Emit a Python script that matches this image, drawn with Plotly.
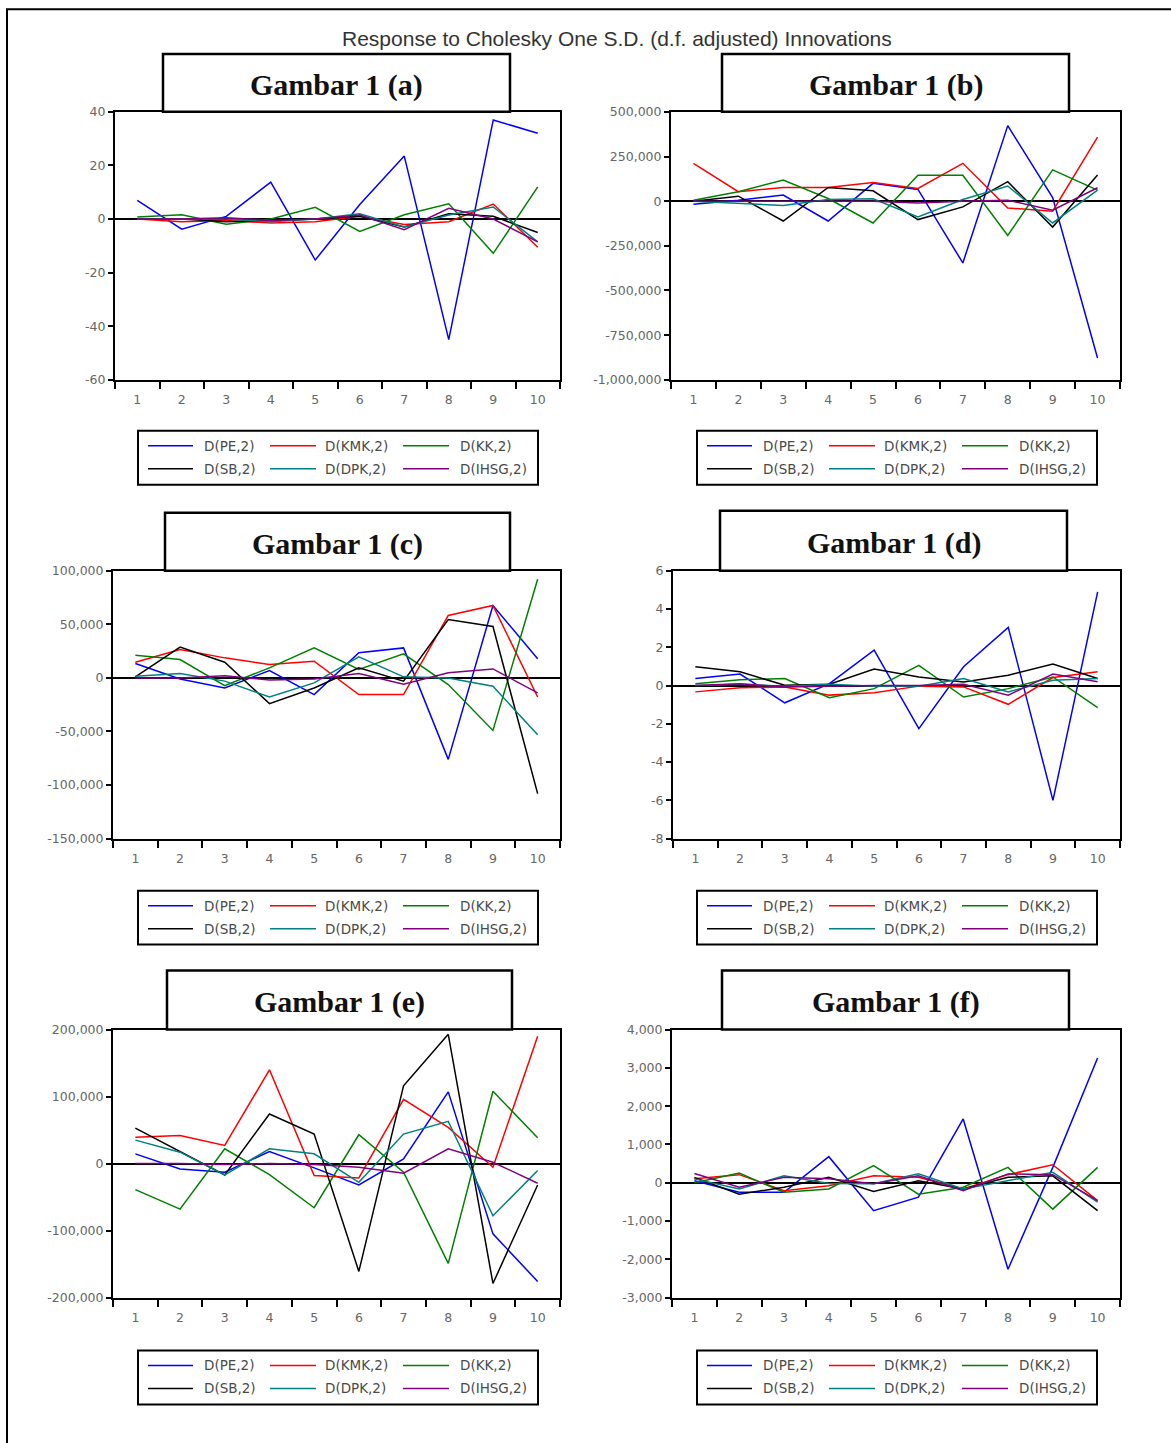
import plotly.graph_objects as go

W, H = 1171, 1443

main_title = "Response to Cholesky One S.D. (d.f. adjusted) Innovations"
periods = list(range(1, 11))
series_names = ["D(PE,2)", "D(KMK,2)", "D(KK,2)", "D(SB,2)", "D(DPK,2)", "D(IHSG,2)"]
series_colors = ["#0000ff", "#ff0000", "#008000", "#000000", "#008080", "#800080"]
panel_titles = ["Gambar 1 (a)", "Gambar 1 (b)", "Gambar 1 (c)",
                "Gambar 1 (d)", "Gambar 1 (e)", "Gambar 1 (f)"]

# ---- Panel (a)
a_pe = [7, -3.8, 1, 13.8, -15.3, 5.4, 23.5, -45, 37, 32]
a_kmk = [0, -1, -0.5, -1.5, -1, 1, -2, -1, 5.6, -10.5]
a_kk = [0.8, 1.6, -1.9, 0, 4.4, -4.6, 1.6, 5.7, -12.8, 12]
a_sb = [0, 0, -1, -0.5, 0, 1, -3, 2, 1, -5]
a_dpk = [0, 0, 0, -1, 0, 2, -3, 1.5, 4.5, -8.5]
a_ihsg = [0, 0, 0.5, -0.5, 0, 1.5, -4, 4, 0, -8.5]
a_ticks = [-60, -40, -20, 0, 20, 40]

# ---- Panel (b)
b_pe = [-17000, 5000, 34000, -111000, 100000, 66000, -346000, 423000, 20000, -878000]
b_kmk = [212000, 53000, 77000, 77000, 105000, 71000, 212000, -38000, -56000, 359000]
b_kk = [5000, 53000, 118000, 15000, -122000, 145000, 145000, -192000, 175000, 62000]
b_sb = [0, 28000, -111000, 77000, 58000, -103000, -32000, 109000, -145000, 147000]
b_dpk = [0, -13000, -24000, 9000, 13000, -88000, 9000, 85000, -122000, 62000]
b_ihsg = [0, 0, 0, 0, 0, -10000, 0, 5000, -50000, 75000]
b_ticks = [-1000000, -750000, -500000, -250000, 0, 250000, 500000]

# ---- Panel (c)
c_pe = [13400, -1000, -9400, 6900, -15600, 23400, 28000, -76000, 67600, 17800]
c_kmk = [14600, 26500, 18700, 12500, 15600, -15600, -15600, 58300, 67600, -17800]
c_kk = [21200, 17100, -7200, 9400, 28000, 7800, 22400, -6200, -49000, 92000]
c_sb = [1000, 28700, 14600, -24000, -9400, 9400, -3000, 54500, 48000, -108000]
c_dpk = [1600, 4000, -3000, -17800, -4700, 19600, 1000, 0, -7800, -53000]
c_ihsg = [0, 0, 2000, -2000, -1000, 4000, -6000, 4700, 8400, -14000]
c_ticks = [-150000, -100000, -50000, 0, 50000, 100000]

# ---- Panel (d)
d_pe = [0.37, 0.6, -0.9, 0.1, 1.85, -2.25, 0.98, 3.04, -6.0, 4.9]
d_kmk = [-0.33, -0.12, -0.07, -0.5, -0.38, -0.03, -0.07, -0.98, 0.42, 0.72]
d_kk = [0.1, 0.3, 0.37, -0.63, -0.16, 1.06, -0.6, -0.16, 0.45, -1.15]
d_sb = [0.98, 0.72, 0.02, 0.07, 0.86, 0.45, 0.19, 0.54, 1.12, 0.37]
d_dpk = [0, 0.07, -0.03, 0.07, -0.03, -0.03, 0.37, -0.33, 0.28, 0.37]
d_ihsg = [0, 0.1, -0.07, -0.03, 0, 0, 0.07, -0.5, 0.6, 0.2]
d_ticks = [-8, -6, -4, -2, 0, 2, 4, 6]

# ---- Panel (e)
e_pe = [14500, -8000, -13000, 18000, -6500, -32000, 7000, 107000, -105000, -176000]
e_kmk = [39400, 42000, 27000, 140000, -18000, -21400, 95800, 54000, -5500, 190000]
e_kk = [-39000, -68000, 22000, -16500, -66000, 43000, -13000, -149000, 108000, 38400]
e_sb = [53000, 18000, -17000, 74000, 44000, -161000, 116000, 193000, -179000, -32000]
e_dpk = [35000, 17000, -17000, 22000, 14500, -28000, 44000, 63000, -78000, -10500]
e_ihsg = [0, 0, -1500, 0, -1500, -5500, -14500, 22000, 2000, -29400]
e_ticks = [-200000, -100000, 0, 100000, 200000]

# ---- Panel (f)
f_pe = [50, -250, -250, 680, -730, -380, 1665, -2260, 400, 3260]
f_kmk = [100, 210, -210, -80, 180, 140, -165, 210, 470, -470]
f_kk = [0, 250, -250, -165, 445, -300, -120, 400, -690, 400]
f_sb = [140, -300, -120, 140, -230, 50, -165, 140, 180, -730]
f_dpk = [100, -165, 180, -20, -30, 230, -165, 50, 270, -510]
f_ihsg = [240, -120, 140, 100, -30, 180, -210, 230, 210, -470]
f_ticks = [-3000, -2000, -1000, 0, 1000, 2000, 3000, 4000]

panel_series = [
    [a_pe, a_kmk, a_kk, a_sb, a_dpk, a_ihsg],
    [b_pe, b_kmk, b_kk, b_sb, b_dpk, b_ihsg],
    [c_pe, c_kmk, c_kk, c_sb, c_dpk, c_ihsg],
    [d_pe, d_kmk, d_kk, d_sb, d_dpk, d_ihsg],
    [e_pe, e_kmk, e_kk, e_sb, e_dpk, e_ihsg],
    [f_pe, f_kmk, f_kk, f_sb, f_dpk, f_ihsg],
]
panel_ticks = [a_ticks, b_ticks, c_ticks, d_ticks, e_ticks, f_ticks]

# ---- Layout geometry (target pixels: x0, x1, y0, y1 from top-left)
panel_geom = [
    dict(plot=(115, 560, 111, 379), box=(163, 510, 53, 111), legend=(138, 538, 430, 484)),
    dict(plot=(671, 1120, 111, 379), box=(722, 1069, 53, 111), legend=(697, 1097, 430, 484)),
    dict(plot=(113, 560, 570, 838), box=(165, 510, 512, 570), legend=(138, 538, 890, 944)),
    dict(plot=(673, 1120, 570, 838), box=(720, 1067, 510, 570), legend=(697, 1097, 890, 944)),
    dict(plot=(113, 560, 1029, 1297), box=(167, 512, 970, 1029), legend=(138, 538, 1350, 1404)),
    dict(plot=(672, 1120, 1029, 1297), box=(722, 1069, 970, 1029), legend=(697, 1097, 1350, 1404)),
]

# vertical correction for the capture (observed: shown_y = 7.1 + 0.99 * page_y)
Y_OFF, Y_SCALE = 7.1, 0.9899


def px(x):
    return x / W


def py(y):
    return 1 - ((y - Y_OFF) / Y_SCALE) / H


TICK_FONT = dict(family="DejaVu Sans, Verdana, sans-serif", size=12.5, color="#666666")
LEG_FONT = dict(family="DejaVu Sans, Verdana, sans-serif", size=13.5, color="#4a4a4a")

fig = go.Figure()
shapes = []
annotations = []
layout_axes = {}

for i in range(6):
    k = "" if i == 0 else str(i + 1)
    g = panel_geom[i]
    x0, x1, y0, y1 = g["plot"]
    for vals, name, color in zip(panel_series[i], series_names, series_colors):
        fig.add_trace(go.Scatter(
            x=periods, y=vals, mode="lines", name=name,
            line=dict(color=color, width=1.5),
            xaxis="x" + k, yaxis="y" + k, showlegend=False,
            hoverinfo="x+y+name"))
    ticks = panel_ticks[i]
    layout_axes["xaxis" + k] = dict(
        domain=[px(x0), px(x1)], range=[0.5, 10.5], anchor="y" + k,
        tickmode="array", tickvals=periods, ticktext=[str(p) for p in periods],
        ticks="", ticklabelstandoff=7, showline=True, linecolor="black", linewidth=2,
        mirror=True, showgrid=False, zeroline=False, tickfont=TICK_FONT,
        minor=dict(tickmode="array", tickvals=[p - 0.5 for p in periods] + [10.5],
                   ticks="outside", ticklen=7, tickwidth=2, tickcolor="black",
                   showgrid=False),
        fixedrange=True)
    layout_axes["yaxis" + k] = dict(
        domain=[py(y1), py(y0)], range=[ticks[0], ticks[-1]], anchor="x" + k,
        tickmode="array", tickvals=ticks, ticktext=[f"{v:,}" for v in ticks],
        ticks="outside", ticklen=5, tickwidth=1.5, tickcolor="black",
        showline=True, linecolor="black", linewidth=2, mirror=True,
        showgrid=False, zeroline=True, zerolinecolor="black", zerolinewidth=1.5,
        tickfont=TICK_FONT, fixedrange=True)

    # title box
    bx0, bx1, by0, by1 = g["box"]
    shapes.append(dict(type="rect", xref="paper", yref="paper",
                       x0=px(bx0), x1=px(bx1), y0=py(by1), y1=py(by0),
                       line=dict(color="black", width=2.5), fillcolor="white"))
    annotations.append(dict(text="<b>" + panel_titles[i] + "</b>", xref="paper", yref="paper",
                            x=px((bx0 + bx1) / 2), y=py((by0 + by1) / 2 + 2),
                            xanchor="center", yanchor="middle", showarrow=False,
                            font=dict(family="Liberation Serif, Times New Roman, serif",
                                      size=30, color="#111111")))

    # legend box
    lx0, lx1, ly0, ly1 = g["legend"]
    shapes.append(dict(type="rect", xref="paper", yref="paper",
                       x0=px(lx0), x1=px(lx1), y0=py(ly1), y1=py(ly0),
                       line=dict(color="black", width=2), fillcolor="white"))
    col_line = [(10, 55), (132, 178), (265, 311)]
    col_text = [64, 185, 320]
    row_y = [ly0 + 15, ly0 + 38]
    for j, (name, color) in enumerate(zip(series_names, series_colors)):
        r, c = divmod(j, 3)
        yy = row_y[r]
        shapes.append(dict(type="line", xref="paper", yref="paper",
                           x0=px(lx0 + col_line[c][0]), x1=px(lx0 + col_line[c][1]),
                           y0=py(yy), y1=py(yy), line=dict(color=color, width=1.5)))
        annotations.append(dict(text=name, xref="paper", yref="paper",
                                x=px(lx0 + col_text[c]), y=py(yy),
                                xanchor="left", yanchor="middle", showarrow=False,
                                font=LEG_FONT))

# outer frame (left and top edges visible)
shapes.append(dict(type="rect", xref="paper", yref="paper",
                   x0=px(7), x1=px(1190), y0=-0.05, y1=1 - 1.2 / H,
                   line=dict(color="black", width=2), fillcolor="rgba(0,0,0,0)",
                   layer="below"))

annotations.append(dict(text=main_title, xref="paper", yref="paper",
                        x=px(617), y=py(38), xanchor="center", yanchor="middle",
                        showarrow=False,
                        font=dict(family="Liberation Sans, Arial, sans-serif",
                                  size=21, color="#333333")))

fig.update_layout(
    width=W, height=H, autosize=False,
    margin=dict(l=0, r=0, t=0, b=0),
    paper_bgcolor="white", plot_bgcolor="white",
    showlegend=False,
    shapes=shapes, annotations=annotations,
    **layout_axes)

post_js = (
    "document.body.style.margin='0';"
    "document.body.style.padding='0';"
)

fig.write_html("out.html", config={"displayModeBar": False}, post_script=post_js)
